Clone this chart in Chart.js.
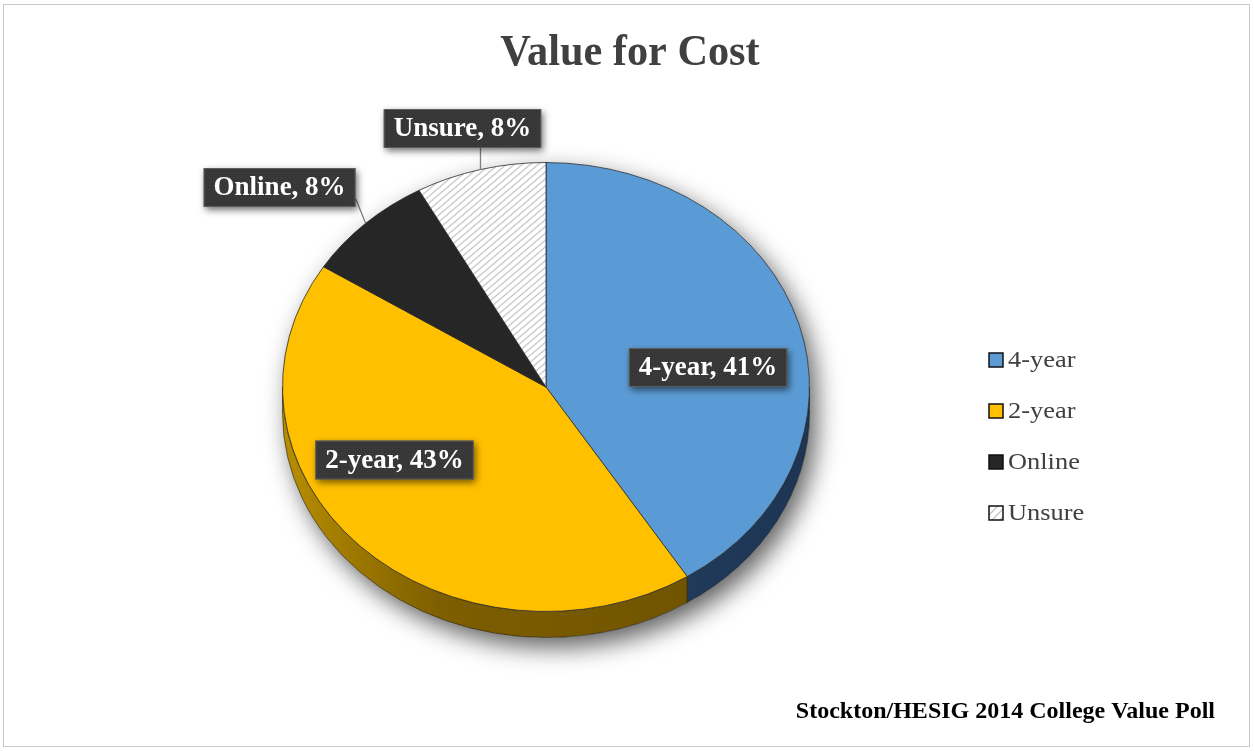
<!DOCTYPE html>
<html>
<head>
<meta charset="utf-8">
<script src="https://cdn.jsdelivr.net/npm/chart.js@4.4.1/dist/chart.umd.min.js"></script>
<style>
  html, body { margin: 0; padding: 0; background: #ffffff; }
  #chart { display: block; }
</style>
</head>
<body>
<canvas id="chart" width="1254" height="751"></canvas>
<script>
// ---- data ----
const categories = ['4-year', '2-year', 'Online', 'Unsure'];
const shares = [41, 43, 8, 8];
const chartTitle = 'Value for Cost';
const sourceNote = 'Stockton/HESIG 2014 College Value Poll';

// ---- look ----
const SERIF = '"Liberation Serif", "Times New Roman", serif';
const TILT = 0.852;      // vertical squash of the pie disc
const DEPTH = 26;        // thickness of the disc edge
const topColors = ['#5b9bd5', '#ffc000', '#262626', null];
const sideStops = [
  [[0, '#2d4b70'], [1, '#1d3553']],
  [[0, '#b88e00'], [0.3, '#7d5e00'], [1, '#6a4f00']],
  [[0, '#111111'], [1, '#111111']],
  [[0, '#9a9a9a'], [1, '#9a9a9a']]
];
// label box centre relative to the pie centre, in units of the radius
const labelSpots = [
  { ux: 0.615, uy: -0.074, leader: false },
  { ux: -0.575, uy: 0.277, leader: false },
  { ux: -1.011, uy: -0.757, leader: true },
  { ux: -0.317, uy: -0.981, leader: true }
];

function makeHatch() {
  const c = document.createElement('canvas');
  c.width = 8; c.height = 8;
  const g = c.getContext('2d');
  g.fillStyle = '#ffffff';
  g.fillRect(0, 0, 8, 8);
  g.strokeStyle = '#c4c4c4';
  g.lineWidth = 1.3;
  g.beginPath();
  g.moveTo(-1, 9); g.lineTo(9, -1);
  g.moveTo(-5, 5); g.lineTo(5, -5);
  g.moveTo(3, 13); g.lineTo(13, 3);
  g.stroke();
  return g.createPattern(c, 'repeat');
}
function makeDots() {
  const c = document.createElement('canvas');
  c.width = 4; c.height = 4;
  const g = c.getContext('2d');
  g.fillStyle = '#363636';
  g.fillRect(0, 0, 4, 4);
  g.fillStyle = '#4a4a4a';
  g.fillRect(1, 1, 1, 1);
  g.fillStyle = '#3f3f3f';
  g.fillRect(3, 3, 1, 1);
  return g.createPattern(c, 'repeat');
}

const hatch = makeHatch();
const dots = makeDots();
const fills = topColors.map(c => c || hatch);

// text drawn with a horizontal stretch factor
function stretchedText(ctx, text, x, y, sx, align) {
  ctx.save();
  ctx.translate(x, y);
  ctx.scale(sx, 1);
  ctx.textAlign = align;
  ctx.fillText(text, 0, 0);
  ctx.restore();
}

// disc edge, drop shadow and tilt of the top face
const tiltedPie = {
  id: 'tiltedPie',
  beforeDatasetsDraw(chart) {
    const ctx = chart.ctx;
    const arcs = chart.getDatasetMeta(0).data;
    const cx = arcs[0].x, cy = arcs[0].y, r = arcs[0].outerRadius, ry = r * TILT;

    ctx.save();
    ctx.shadowColor = 'rgba(0,0,0,0.62)';
    ctx.shadowBlur = 24;
    ctx.shadowOffsetX = 7;
    ctx.shadowOffsetY = 10;
    ctx.beginPath();
    ctx.ellipse(cx, cy, r, ry, 0, Math.PI, 2 * Math.PI);
    ctx.lineTo(cx + r, cy + DEPTH);
    ctx.ellipse(cx, cy + DEPTH, r, ry, 0, 0, Math.PI);
    ctx.closePath();
    ctx.fillStyle = '#ffffff';
    ctx.fill();
    ctx.restore();

    arcs.forEach((arc, i) => {
      for (const k of [-1, 0, 1]) {
        const s = Math.max(arc.startAngle + k * 2 * Math.PI, 0);
        const e = Math.min(arc.endAngle + k * 2 * Math.PI, Math.PI);
        if (e <= s) continue;
        const grad = ctx.createLinearGradient(cx - r, 0, cx + r, 0);
        sideStops[i].forEach(([o, c]) => grad.addColorStop(o, c));
        ctx.save();
        ctx.beginPath();
        ctx.moveTo(cx + r * Math.cos(s), cy + ry * Math.sin(s));
        ctx.ellipse(cx, cy, r, ry, 0, s, e);
        ctx.lineTo(cx + r * Math.cos(e), cy + ry * Math.sin(e) + DEPTH);
        ctx.ellipse(cx, cy + DEPTH, r, ry, 0, e, s, true);
        ctx.closePath();
        ctx.fillStyle = grad;
        ctx.fill();
        ctx.strokeStyle = 'rgba(25,25,25,0.75)';
        ctx.lineWidth = 0.8;
        ctx.stroke();
        ctx.restore();
      }
    });

    ctx.save();
    ctx.translate(cx, cy);
    ctx.scale(1, TILT);
    ctx.translate(-cx, -cy);
  },
  afterDatasetsDraw(chart) {
    const ctx = chart.ctx;
    ctx.restore();

    const arcs = chart.getDatasetMeta(0).data;
    const cx = arcs[0].x, cy = arcs[0].y, r = arcs[0].outerRadius, ry = r * TILT;
    ctx.save();
    ctx.font = 'bold 27px ' + SERIF;
    arcs.forEach((arc, i) => {
      const text = categories[i] + ', ' + shares[i] + '%';
      const spot = labelSpots[i];
      const w = ctx.measureText(text).width + 20;
      const h = 39;
      const bx = cx + spot.ux * r - w / 2;
      const by = cy + spot.uy * r - h / 2;
      if (spot.leader) {
        const m = (arc.startAngle + arc.endAngle) / 2;
        const ex = cx + r * Math.cos(m), ey = cy + ry * Math.sin(m);
        const px = Math.min(Math.max(ex, bx), bx + w);
        const py = Math.min(Math.max(ey, by), by + h * 0.78);
        ctx.beginPath();
        ctx.moveTo(ex, ey);
        ctx.lineTo(px, py);
        ctx.strokeStyle = '#7f7f7f';
        ctx.lineWidth = 1.3;
        ctx.stroke();
      }
      ctx.save();
      ctx.shadowColor = 'rgba(0,0,0,0.55)';
      ctx.shadowBlur = 7;
      ctx.shadowOffsetX = 2;
      ctx.shadowOffsetY = 3;
      ctx.fillStyle = dots;
      ctx.fillRect(bx, by, w, h);
      ctx.restore();
      ctx.strokeStyle = 'rgba(120,120,120,0.6)';
      ctx.lineWidth = 1;
      ctx.strokeRect(bx + 0.5, by + 0.5, w - 1, h - 1);
      ctx.fillStyle = '#ffffff';
      ctx.textAlign = 'center';
      ctx.textBaseline = 'middle';
      ctx.fillText(text, bx + w / 2, by + h / 2 + 1);
    });
    ctx.restore();
  },
  afterDraw(chart) {
    const ctx = chart.ctx;
    ctx.save();
    // frame
    ctx.strokeStyle = '#c9c9c9';
    ctx.lineWidth = 1;
    ctx.strokeRect(3.5, 4.5, 1246, 742);

    // title
    ctx.fillStyle = '#404040';
    ctx.font = 'bold 45px ' + SERIF;
    ctx.textBaseline = 'alphabetic';
    stretchedText(ctx, chartTitle, 630, 65, 0.94, 'center');

    // legend
    ctx.font = '24px ' + SERIF;
    ctx.textBaseline = 'middle';
    categories.forEach((name, i) => {
      const y = 360 + i * 51;
      ctx.fillStyle = fills[i];
      ctx.fillRect(989, y - 7, 14, 14);
      ctx.strokeStyle = '#111111';
      ctx.lineWidth = 1.5;
      ctx.strokeRect(989, y - 7, 14, 14);
      ctx.fillStyle = '#404040';
      stretchedText(ctx, name, 1008, y + 1, 1.1, 'left');
    });

    // source note
    ctx.fillStyle = '#000000';
    ctx.font = 'bold 24px ' + SERIF;
    ctx.textBaseline = 'alphabetic';
    stretchedText(ctx, sourceNote, 1215, 718, 1, 'right');
    ctx.restore();
  }
};

new Chart(document.getElementById('chart'), {
  type: 'pie',
  data: {
    labels: categories,
    datasets: [{
      data: shares,
      backgroundColor: fills,
      borderColor: 'rgba(40,40,40,0.85)',
      borderWidth: 1,
      radius: 263.5
    }]
  },
  options: {
    responsive: false,
    animation: false,
    devicePixelRatio: 1,
    events: [],
    layout: { padding: { left: 250, right: 412, top: 111, bottom: 88 } },
    plugins: {
      legend: { display: false },
      tooltip: { enabled: false },
      title: { display: false }
    }
  },
  plugins: [tiltedPie]
});
</script>
</body>
</html>
